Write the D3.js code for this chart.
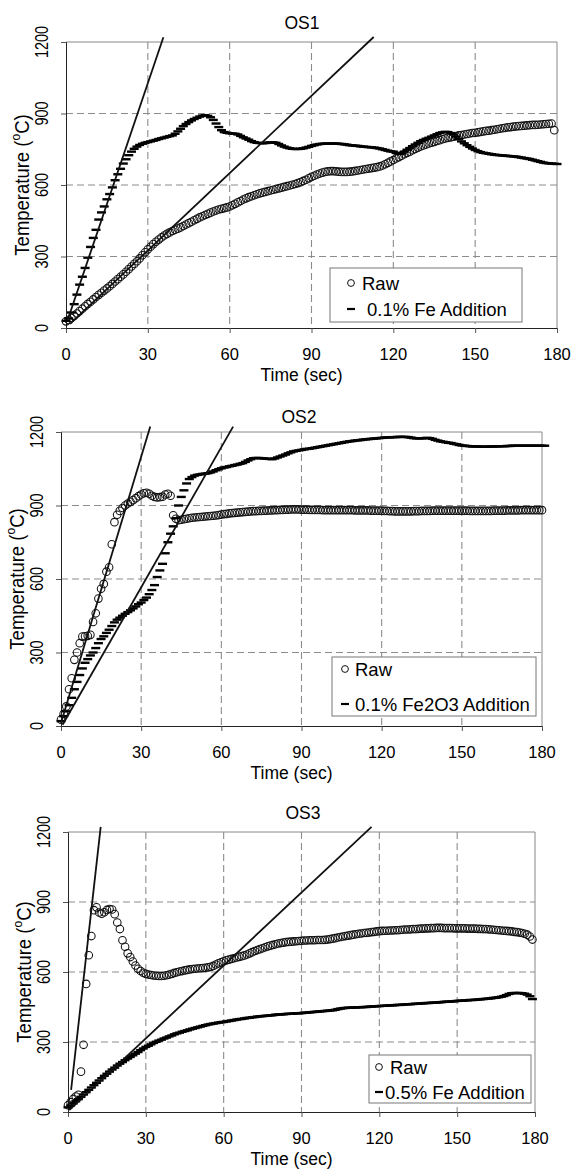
<!DOCTYPE html>
<html>
<head>
<meta charset="utf-8">
<script src="https://cdn.jsdelivr.net/npm/d3@7"></script>
<style>
body { margin: 0; background: #fff; }
text { font-family: "Liberation Sans", Arial, sans-serif; fill: #000; }
</style>
</head>
<body>
<svg width="575" height="1169"></svg>
<script>
// tick labels and texts
var xTicks = [0, 30, 60, 90, 120, 150, 180];
var yTicks = [0, 300, 600, 900, 1200];
var titles = ['OS1', 'OS2', 'OS3'];
var rawLabel = 'Raw';
var feLabels = ['0.1% Fe Addition', '0.1% Fe2O3 Addition', '0.5% Fe Addition'];

// temperature per second
var raw1 = [28,34,42,51,61,71,81,91,101,110,
	120,130,139,148,157,166,175,185,195,205,
	215,225,236,247,258,269,280,292,305,318,
	330,341,352,362,371,380,388,395,401,407,
	412,417,422,428,434,440,446,452,458,464,
	469,474,479,484,489,493,497,500,503,506,
	510,515,521,527,533,539,544,549,553,557,
	561,565,568,571,574,577,580,583,586,589,
	592,595,598,601,604,608,612,617,622,628,
	634,639,644,648,652,655,657,658,658,657,
	656,655,655,655,656,657,659,661,663,665,
	667,669,671,673,675,678,682,687,693,699,
	705,711,717,723,729,735,740,746,751,757,
	762,766,770,774,778,781,785,788,792,795,
	798,800,803,805,808,810,812,814,816,818,
	819,821,823,825,827,828,830,832,834,836,
	838,840,842,843,845,846,847,848,849,850,
	851,852,852,853,854,855,856,857,858,830];
var fe1 = [30,40,65,100,140,182,215,252,295,340,
	378,412,455,485,510,540,562,590,620,645,
	668,690,708,725,740,752,761,768,773,777,
	780,783,786,789,793,796,799,802,805,808,
	815,825,836,847,856,864,871,877,882,887,
	891,893,890,884,873,858,843,830,822,819,
	817,816,815,812,806,800,795,790,784,780,
	777,776,775,776,778,779,779,777,772,766,
	761,757,754,752,751,751,752,754,757,760,
	764,767,770,772,773,774,774,774,774,774,
	773,772,771,769,767,766,765,764,762,761,
	760,759,758,757,755,753,750,747,744,741,
	740,735,730,732,740,748,755,763,770,777,
	784,789,794,798,803,808,813,818,821,823,
	822,818,812,803,793,783,775,767,760,753,
	747,742,738,735,733,731,729,727,726,725,
	724,723,722,721,720,719,717,715,713,711,
	709,706,703,700,697,694,692,691,690,689,688];
var raw2 = [26,50,80,150,195,270,300,338,365,366,
	368,372,425,460,520,560,580,630,648,742,
	832,862,878,890,900,908,915,922,930,938,
	945,950,952,948,940,935,933,934,936,945,
	948,940,860,846,840,842,844,846,848,850,
	851,852,853,854,855,856,857,858,859,861,
	863,865,866,868,869,870,871,872,873,874,
	875,876,877,877,878,878,879,879,880,880,
	881,881,882,882,883,883,884,884,884,884,
	883,883,883,882,882,882,882,882,881,881,
	881,881,881,881,881,881,881,881,881,881,
	880,880,880,880,880,880,879,879,879,879,
	879,878,878,877,877,876,876,876,876,876,
	876,876,877,877,877,878,878,878,878,879,
	879,879,879,879,879,879,879,879,879,879,
	879,879,879,878,878,878,878,878,878,878,
	878,878,879,879,879,879,879,880,880,880,
	880,880,881,881,881,881,881,881,881,881,881];
var fe2 = [20,40,60,85,115,150,180,208,235,258,
	273,288,300,318,338,355,366,380,393,408,
	423,434,442,450,458,465,472,480,488,497,
	504,514,524,538,555,575,608,635,662,705,
	750,785,815,848,900,935,962,990,1008,1016,
	1022,1025,1027,1029,1030,1032,1035,1039,1044,1048,
	1052,1055,1057,1060,1062,1065,1067,1070,1073,1078,
	1084,1089,1093,1094,1094,1093,1092,1091,1090,1089,
	1092,1096,1100,1104,1108,1113,1117,1121,1123,1125,
	1127,1129,1131,1132,1134,1136,1138,1140,1142,1144,
	1146,1148,1150,1152,1154,1156,1158,1160,1162,1163,
	1165,1166,1167,1169,1170,1171,1172,1173,1174,1175,
	1176,1177,1178,1178,1179,1179,1180,1180,1180,1180,
	1179,1177,1175,1174,1174,1174,1175,1176,1175,1172,
	1168,1165,1162,1160,1158,1156,1155,1152,1150,1147,
	1145,1144,1143,1142,1141,1141,1141,1140,1140,1140,
	1140,1141,1141,1141,1142,1142,1142,1143,1143,1144,
	1144,1144,1144,1144,1144,1144,1144,1144,1144,1144,1144,1144];
var raw3 = [29,42,56,66,74,173,288,549,672,754,
	865,877,855,850,856,866,870,868,848,812,
	784,736,708,680,664,645,628,614,604,597,
	592,589,587,585,584,583,583,584,586,589,
	592,596,599,602,604,607,609,611,613,614,
	615,616,617,618,620,622,626,632,637,642,
	646,650,653,656,659,662,665,668,671,675,
	680,685,690,694,698,702,706,710,713,716,
	719,722,724,726,728,729,730,731,732,733,
	734,735,735,736,736,736,737,737,737,738,
	739,741,743,745,748,750,752,754,756,758,
	760,762,764,765,767,768,769,771,772,774,
	775,776,777,777,778,778,779,779,780,781,
	782,782,783,784,784,785,786,786,787,787,
	788,788,789,789,789,788,788,788,788,787,
	787,787,787,787,786,786,786,786,785,785,
	784,784,783,782,781,780,779,778,777,776,
	775,774,772,771,769,767,764,760,752,739];
var fe3 = [20,28,37,46,55,65,75,85,95,105,
	115,125,135,145,155,164,173,182,190,199,
	207,214,222,229,236,243,250,257,265,272,
	279,284,290,296,301,306,310,315,319,324,
	328,333,337,340,344,347,350,354,357,360,
	363,366,369,372,375,377,379,381,383,385,
	386,388,390,392,394,396,398,399,401,403,
	404,406,407,409,410,411,412,413,414,415,
	417,418,418,419,420,421,421,422,423,423,
	424,425,426,427,428,429,430,431,432,433,
	434,435,436,438,441,443,445,446,447,447,
	448,448,449,449,450,450,451,452,453,453,
	454,455,455,456,457,457,458,459,459,460,
	461,462,462,463,464,464,465,466,467,467,
	468,469,469,470,471,472,473,473,474,475,
	476,477,477,478,479,480,480,481,482,483,
	484,485,486,487,489,490,492,494,497,501,
	506,509,510,510,510,509,507,503,496,484];

// straight lines: [t start, T start, t end, T end]
var fits1 = [[0.8, 40, 35.7, 1220], [1.5, 17, 112.8, 1221]];
var fits2 = [[0, 12, 33.4, 1222], [0.6, 5, 64.4, 1222]];
var fits3 = [[1.2, 95, 12.6, 1222], [0.5, 8, 117, 1222]];

function main() {
	var svg = d3.select('svg');

	var panels = [
		{ l: 66, r: 557, t: 42, b: 328, tx: 302, ty: 23,
			box: [330, 268, 192, 54], rows: [283, 309], mx: 351, txt: [362, 367] },
		{ l: 61, r: 542, t: 432, b: 726, tx: 299, ty: 417,
			box: [332, 657, 204, 59], rows: [669, 704], mx: 345, txt: [355, 355] },
		{ l: 68, r: 535, t: 832, b: 1112, tx: 303, ty: 813,
			box: [369, 1055, 162, 48], rows: [1067, 1092], mx: 379, txt: [390, 385] }
	];
	var raws = [raw1, raw2, raw3];
	var fes = [fe1, fe2, fe3];
	var fits = [fits1, fits2, fits3];

	panels.forEach(function(p, i) {
		var g = svg.append('g');
		var x = d3.scaleLinear().domain([0, 180]).range([p.l, p.r]);
		var y = d3.scaleLinear().domain([0, 1200]).range([p.b, p.t]);

		// dashed grid
		g.selectAll('.vg').data(xTicks.slice(1, -1)).enter().append('line')
			.attr('x1', function(d){ return x(d); }).attr('x2', function(d){ return x(d); })
			.attr('y1', p.t).attr('y2', p.b)
			.attr('stroke', '#8c8c8c').attr('stroke-width', 1.1).attr('stroke-dasharray', '7,4');
		g.selectAll('.hg').data(yTicks.slice(1, -1)).enter().append('line')
			.attr('y1', function(d){ return y(d); }).attr('y2', function(d){ return y(d); })
			.attr('x1', p.l).attr('x2', p.r)
			.attr('stroke', '#8c8c8c').attr('stroke-width', 1.1).attr('stroke-dasharray', '7,4');
		// top and right border
		g.append('path')
			.attr('d', 'M' + p.l + ',' + p.t + 'H' + p.r + 'V' + p.b)
			.attr('fill', 'none').attr('stroke', '#888');

		// axes
		var xa = g.append('g').attr('transform', 'translate(0,' + p.b + ')')
			.call(d3.axisBottom(x).tickValues(xTicks).tickSize(5).tickFormat(''));
		var ya = g.append('g').attr('transform', 'translate(' + p.l + ',0)')
			.call(d3.axisLeft(y).tickValues(yTicks).tickSize(5).tickFormat(''));
		[xa, ya].forEach(function(a) {
			a.select('.domain').attr('stroke', '#222');
			a.selectAll('.tick line').attr('stroke', '#555');
		});

		// tick labels
		g.selectAll('.xl').data(xTicks).enter().append('text')
			.attr('x', function(d){ return x(d); }).attr('y', p.b + 26)
			.attr('text-anchor', 'middle').attr('dominant-baseline', 'central')
			.attr('font-size', 16.5).text(function(d){ return d; });
		g.selectAll('.yl').data(yTicks).enter().append('text')
			.attr('transform', function(d){
				return 'translate(' + (p.l - 24) + ',' + y(d) + ') scale(1.3,1) rotate(-90)';
			})
			.attr('text-anchor', 'middle').attr('dominant-baseline', 'central')
			.attr('font-size', 14.5).text(function(d){ return d; });

		// titles
		g.append('text').attr('x', p.tx).attr('y', p.ty)
			.attr('text-anchor', 'middle').attr('dominant-baseline', 'central')
			.attr('font-size', 17.5).text(titles[i]);
		g.append('text').attr('x', (p.l + p.r) / 2 - 10).attr('y', p.b + 47)
			.attr('text-anchor', 'middle').attr('dominant-baseline', 'central')
			.attr('font-size', 17.5).text('Time (sec)');
		var yt = g.append('text')
			.attr('transform', 'translate(' + (p.l - 44) + ',' + ((p.t + p.b) / 2) + ') scale(1.1,1) rotate(-90)')
			.attr('text-anchor', 'middle').attr('dominant-baseline', 'central')
			.attr('font-size', 18.5);
		yt.append('tspan').text('Temperature (');
		yt.append('tspan').attr('font-size', 12).attr('dy', -6).text('o');
		yt.append('tspan').attr('dy', 6).text('C)');

		// raw series: hollow circles
		g.selectAll('.raw').data(raws[i]).enter().append('circle')
			.attr('cx', function(d, k){ return x(k); })
			.attr('cy', function(d){ return y(d); })
			.attr('r', 3.8)
			.attr('fill', 'none').attr('stroke', '#111').attr('stroke-width', 1.05);

		// Fe series: dash markers
		g.selectAll('.fe').data(fes[i]).enter().append('line')
			.attr('x1', function(d, k){ return x(k) - 4.5; })
			.attr('x2', function(d, k){ return x(k) + 4.5; })
			.attr('y1', function(d){ return y(d); })
			.attr('y2', function(d){ return y(d); })
			.attr('stroke', '#000').attr('stroke-width', 2.4);

		// straight lines
		var line = d3.line().x(function(d){ return x(d[0]); }).y(function(d){ return y(d[1]); });
		fits[i].forEach(function(f) {
			g.append('path').attr('d', line([[f[0], f[1]], [f[2], f[3]]]))
				.attr('stroke', '#111').attr('stroke-width', 1.8).attr('fill', 'none');
		});

		// legend
		g.append('rect').attr('x', p.box[0]).attr('y', p.box[1])
			.attr('width', p.box[2]).attr('height', p.box[3])
			.attr('fill', '#fff').attr('stroke', '#777');
		g.append('circle').attr('cx', p.mx).attr('cy', p.rows[0]).attr('r', 3.4)
			.attr('fill', 'none').attr('stroke', '#111');
		g.append('line').attr('x1', p.mx - 4).attr('x2', p.mx + 4)
			.attr('y1', p.rows[1]).attr('y2', p.rows[1])
			.attr('stroke', '#000').attr('stroke-width', 2.2);
		g.append('text').attr('x', p.txt[0]).attr('y', p.rows[0])
			.attr('dominant-baseline', 'central').attr('font-size', 18.5).text(rawLabel);
		g.append('text').attr('x', p.txt[1]).attr('y', p.rows[1])
			.attr('dominant-baseline', 'central').attr('font-size', 18.5).text(feLabels[i]);
	});
}
main();
</script>
</body>
</html>
